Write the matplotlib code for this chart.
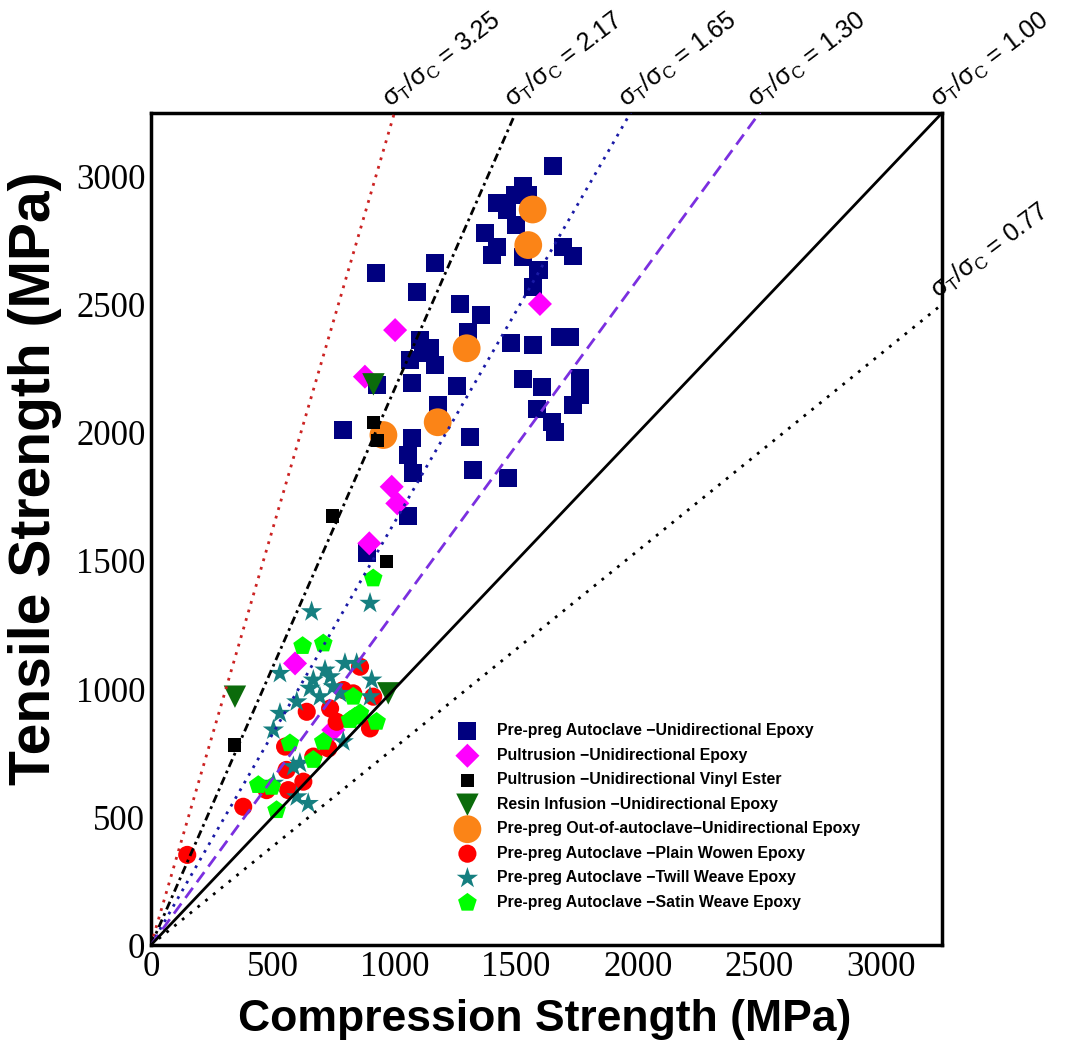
import matplotlib
matplotlib.use("Agg")
import matplotlib.pyplot as plt
import numpy as np

# compression strength (x) and tensile strength (y), MPa
pa_ud_comp = [1650, 1530, 1496, 1420, 1461, 1550, 1500, 1372, 1420, 1400, 1530, 1592,
              1571, 1692, 1733, 923, 1167, 1092, 1270, 1355, 1304, 1105, 1146, 1064,
              1167, 1071, 1119, 1478, 1571, 1681, 1722, 1256, 927, 1530, 1605, 1763,
              1763, 1735, 1585, 1646, 1660, 790, 1181, 1071, 1311, 1057, 1078, 1322,
              1468, 1055, 886]
pa_ud_tens = [3044, 2965, 2930, 2897, 2871, 2930, 2812, 2780, 2728, 2695, 2689, 2637,
              2571, 2728, 2691, 2624, 2663, 2552, 2504, 2461, 2396, 2363, 2331, 2285,
              2265, 2194, 2311, 2353, 2344, 2374, 2374, 2183, 2187, 2210, 2181, 2213,
              2148, 2109, 2092, 2044, 2005, 2012, 2109, 1979, 1986, 1914, 1842, 1855,
              1823, 1676, 1530]

pul_ud_comp = [1598, 1003, 879, 989, 1012, 897, 592, 749]
pul_ud_tens = [2504, 2402, 2220, 1790, 1725, 1569, 1100, 840]

pul_ve_comp = [914, 930, 747, 968, 342]
pul_ve_tens = [2040, 1970, 1676, 1497, 781]

ri_ud_comp = [914, 345, 975]
ri_ud_tens = [2190, 970, 983]

ooa_ud_comp = [1568, 1550, 1297, 1178, 955]
ooa_ud_tens = [2873, 2734, 2331, 2042, 1992]

pa_pw_comp = [149, 379, 475, 564, 626, 551, 557, 640, 736, 763, 729, 900, 859, 790,
              913, 831, 667]
pa_pw_tens = [352, 540, 605, 605, 638, 775, 684, 911, 924, 872, 768, 846, 1087, 996,
              970, 983, 736]

pa_tw_comp = [660, 900, 530, 715, 797, 845, 736, 653, 694, 599, 749, 907, 900, 530,
              503, 790, 585, 612, 599, 646, 503, 667, 777]
pa_tw_tens = [1302, 1335, 1061, 1074, 1100, 1100, 1048, 1003, 970, 950, 1009, 1035,
              970, 905, 840, 794, 697, 710, 579, 553, 632, 1035, 983]

pa_sw_comp = [913, 623, 708, 831, 838, 859, 927, 708, 571, 667, 441, 496, 516, 818]
pa_sw_tens = [1432, 1168, 1178, 970, 892, 905, 872, 794, 788, 723, 625, 618, 527, 879]

ratios = [3.25, 2.17, 1.65, 1.30, 1.00, 0.77]
ratio_text = ["3.25", "2.17", "1.65", "1.30", "1.00", "0.77"]

AX_MAX = 3250

plt.rcParams["mathtext.fontset"] = "custom"
plt.rcParams["mathtext.rm"] = "Liberation Sans"
plt.rcParams["mathtext.it"] = "Liberation Sans"

fig = plt.figure(figsize=(10.76, 10.52), dpi=100)
ax = fig.add_axes([0.1403, 0.1017, 0.7352, 0.7909])

series = [
    (pa_ud_comp, pa_ud_tens, "s", "#00007f", 170, "Pre-preg Autoclave \u2212Unidirectional Epoxy"),
    (pul_ud_comp, pul_ud_tens, "D", "#ff00ff", 150, "Pultrusion \u2212Unidirectional Epoxy"),
    (ooa_ud_comp, ooa_ud_tens, "o", "#fb8417", 400, "Pre-preg Out-of-autoclave\u2212Unidirectional Epoxy"),
    (pul_ve_comp, pul_ve_tens, "s", "black", 90, "Pultrusion \u2212Unidirectional Vinyl Ester"),
    (ri_ud_comp, ri_ud_tens, "v", "#0b6b0b", 260, "Resin Infusion \u2212Unidirectional Epoxy"),
    (pa_pw_comp, pa_pw_tens, "o", "#ff0000", 170, "Pre-preg Autoclave \u2212Plain Wowen Epoxy"),
    (pa_tw_comp, pa_tw_tens, "*", "#157f80", 260, "Pre-preg Autoclave \u2212Twill Weave Epoxy"),
    (pa_sw_comp, pa_sw_tens, "p", "#00ff00", 200, "Pre-preg Autoclave \u2212Satin Weave Epoxy"),
]
handles = {}
for xs, ys, mk, col, sz, lab in series:
    handles[lab] = ax.scatter(xs, ys, marker=mk, s=sz, c=col, edgecolors="none",
                              zorder=2, label=lab)

line_styles = [
    ("#cc2222", (0, (1.0, 2.2))),
    ("black", (0, (3.0, 1.5, 1.0, 1.5))),
    ("#1a1aa6", (0, (1.0, 2.2))),
    ("#7b2fe0", (0, (4.5, 2.5))),
    ("black", "solid"),
    ("black", (0, (1.0, 2.6))),
]
xline = np.array([0, AX_MAX])
for r, txt, (col, ls) in zip(ratios, ratio_text, line_styles):
    ax.plot(xline, r * xline, color=col, linestyle=ls, lw=2.0, zorder=3)
    if r >= 1:
        px, py = AX_MAX / r, AX_MAX
    else:
        px, py = AX_MAX, AX_MAX * r
    ax.text(px, py, r"$\sigma_T/\sigma_C$ = " + txt, rotation=37,
            rotation_mode="anchor", ha="left", va="bottom", fontsize=18,
            family="Liberation Sans")

ax.set_xlim(0, AX_MAX)
ax.set_ylim(0, AX_MAX)
ax.set_xticks(np.arange(0, 3001, 500))
ax.set_yticks(np.arange(0, 3001, 500))
ax.tick_params(length=0, pad=4, labelsize=25)
for lbl in ax.get_xticklabels() + ax.get_yticklabels():
    lbl.set_family("Liberation Serif")
for sp in ax.spines.values():
    sp.set_linewidth(2.5)

ax.set_xlabel("Compression Strength (MPa)", fontsize=32, fontweight="bold",
              family="Liberation Sans")
ax.set_ylabel("Tensile Strength (MPa)", fontsize=41, fontweight="bold",
              family="Liberation Sans")
ax.xaxis.set_label_coords(0.498, -0.065)
ax.yaxis.set_label_coords(-0.112, 0.561)

order = [0, 1, 3, 4, 2, 5, 6, 7]
labs = [series[i][5] for i in order]
leg = ax.legend([handles[l] for l in labs], labs, loc="upper left",
                bbox_to_anchor=(0.372, 0.274), frameon=False, scatterpoints=1,
                handletextpad=0.85, labelspacing=0.6, borderaxespad=0,
                prop={"family": "Liberation Sans", "weight": "bold", "size": 11.4})

fig.savefig("out.png", dpi=100)
